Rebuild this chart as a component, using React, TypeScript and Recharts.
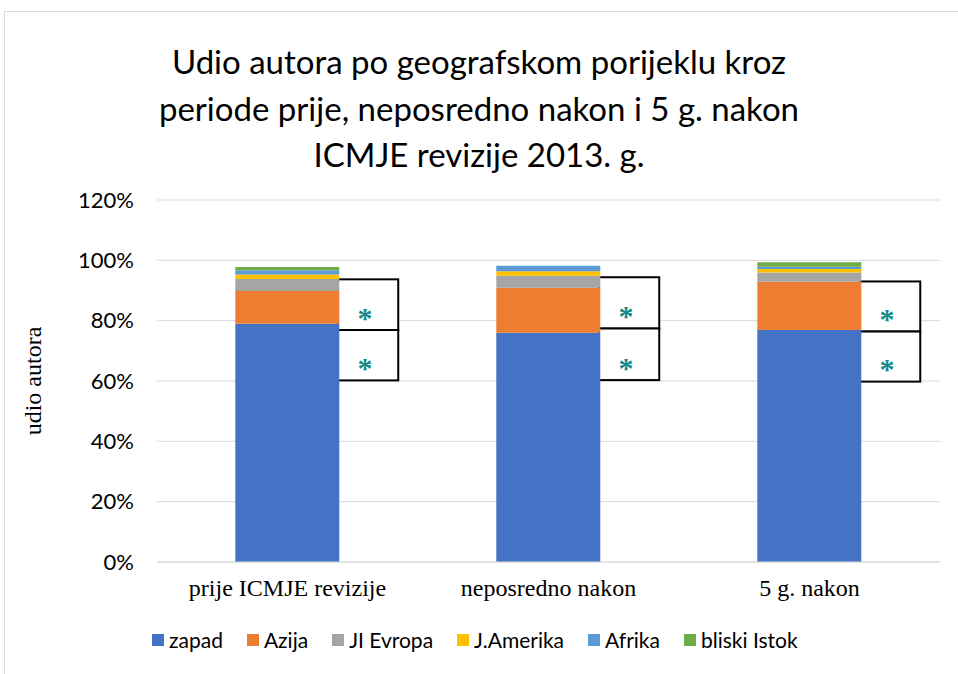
import { Bar, BarChart, CartesianGrid, ReferenceArea, XAxis, YAxis } from 'recharts'

const periods = ['prije ICMJE revizije', 'neposredno nakon', '5 g. nakon']

const zapad = [79.0, 76.0, 76.9]
const azija = [10.8, 14.9, 16.0]
const jiEvropa = [4.0, 4.0, 3.1]
const jAmerika = [1.5, 1.5, 1.1]
const afrika = [1.4, 1.8, 0.8]
const bliskiIstok = [1.1, 0, 1.5]

// significance boxes next to each bar (upper and lower half)
const boxTop = [93.7, 94.4, 93.0]
const boxMid = [76.9, 77.4, 76.4]
const boxBottom = [60.2, 60.3, 59.8]

const yTicks = [0, 20, 40, 60, 80, 100, 120]

const series = [
  { key: 'zapad', name: 'zapad', color: '#4472C4' },
  { key: 'azija', name: 'Azija', color: '#ED7D31' },
  { key: 'jiEvropa', name: 'JI Evropa', color: '#A5A5A5' },
  { key: 'jAmerika', name: 'J.Amerika', color: '#FFC000' },
  { key: 'afrika', name: 'Afrika', color: '#5B9BD5' },
  { key: 'bliskiIstok', name: 'bliski Istok', color: '#70AD47' },
]

const data = periods.map((period, i) => ({
  period,
  zapad: zapad[i],
  azija: azija[i],
  jiEvropa: jiEvropa[i],
  jAmerika: jAmerika[i],
  afrika: afrika[i],
  bliskiIstok: bliskiIstok[i],
}))

const SANS = 'Lato, "Open Sans", sans-serif'
const SERIF = '"Liberation Serif", "DejaVu Serif", serif'

function AnnotationBox(props: any) {
  const { x, y, width, height } = props
  if (![x, y, width, height].every(Number.isFinite)) return null
  const left = x + width * 0.7 - 2
  const boxWidth = width * 0.232
  return (
    <g>
      <rect x={left} y={y} width={boxWidth} height={height} fill="#ffffff" stroke="#000000" strokeWidth={2} />
      <text
        x={left + boxWidth / 2 - 3}
        y={y + height * 0.82}
        textAnchor="middle"
        dominantBaseline="middle"
        fill="#138a8a"
        fontSize={30}
        fontWeight="bold"
        fontFamily={SERIF}
      >
        *
      </text>
    </g>
  )
}

export default function App() {
  return (
    <div style={{ position: 'absolute', left: 0, top: 0, width: 958, height: 674, background: '#fff', overflow: 'hidden' }}>
      <div
        style={{
          position: 'absolute',
          left: 4,
          top: 11,
          width: 980,
          height: 700,
          borderLeft: '1px solid #d9d9d9',
          borderTop: '1px solid #d9d9d9',
        }}
      />
      <div
        style={{
          position: 'absolute',
          left: 0,
          top: 38,
          width: 958,
          textAlign: 'center',
          fontFamily: SANS,
          fontSize: 33,
          lineHeight: '46.5px',
          color: '#000',
        }}
      >
        Udio autora po geografskom porijeklu kroz
        <br />
        periode prije, neposredno nakon i 5 g. nakon
        <br />
        ICMJE revizije 2013. g.
      </div>
      <div style={{ position: 'absolute', left: 0, top: 0 }}>
        <BarChart width={958} height={674} data={data} margin={{ top: 200, right: 18, bottom: 72, left: 0 }} barCategoryGap="30%">
          <CartesianGrid vertical={false} stroke="#d9d9d9" strokeWidth={1} />
          <XAxis
            dataKey="period"
            height={40}
            tickLine={false}
            tickSize={0}
            tickMargin={17}
            axisLine={{ stroke: '#d9d9d9' }}
            tick={{ fill: '#000', fontSize: 24, fontFamily: SERIF }}
          />
          <YAxis
            width={157}
            domain={[0, 120]}
            ticks={yTicks}
            tickFormatter={(v) => `${v}%`}
            axisLine={false}
            tickLine={false}
            tickSize={0}
            tickMargin={23}
            tick={{ fill: '#000', fontSize: 22, fontFamily: SANS }}
            label={{
              content: (p: any) => {
                const vb = p.viewBox
                const cy = vb.y + vb.height / 2
                return (
                  <text
                    x={35}
                    y={cy}
                    transform={`rotate(-90, 35, ${cy})`}
                    textAnchor="middle"
                    dominantBaseline="middle"
                    fontSize={24}
                    fontFamily={SERIF}
                    fill="#000"
                  >
                    udio autora
                  </text>
                )
              },
            }}
          />
          {series.map((s) => (
            <Bar key={s.key} dataKey={s.key} name={s.name} stackId="a" fill={s.color} isAnimationActive={false} />
          ))}
          {periods.map((p, i) => (
            <ReferenceArea key={`up-${p}`} x1={p} x2={p} y1={boxMid[i]} y2={boxTop[i]} shape={<AnnotationBox />} />
          ))}
          {periods.map((p, i) => (
            <ReferenceArea key={`lo-${p}`} x1={p} x2={p} y1={boxBottom[i]} y2={boxMid[i]} shape={<AnnotationBox />} />
          ))}
        </BarChart>
      </div>
      <div
        style={{
          position: 'absolute',
          left: 152,
          top: 627,
          display: 'flex',
          alignItems: 'center',
          fontFamily: SANS,
          fontSize: 21,
          color: '#000',
        }}
      >
        {series.map((s) => (
          <div key={s.key} style={{ display: 'flex', alignItems: 'center', marginRight: 24 }}>
            <span style={{ display: 'inline-block', width: 12, height: 12, background: s.color, marginRight: 5 }} />
            <span>{s.name}</span>
          </div>
        ))}
      </div>
    </div>
  )
}
